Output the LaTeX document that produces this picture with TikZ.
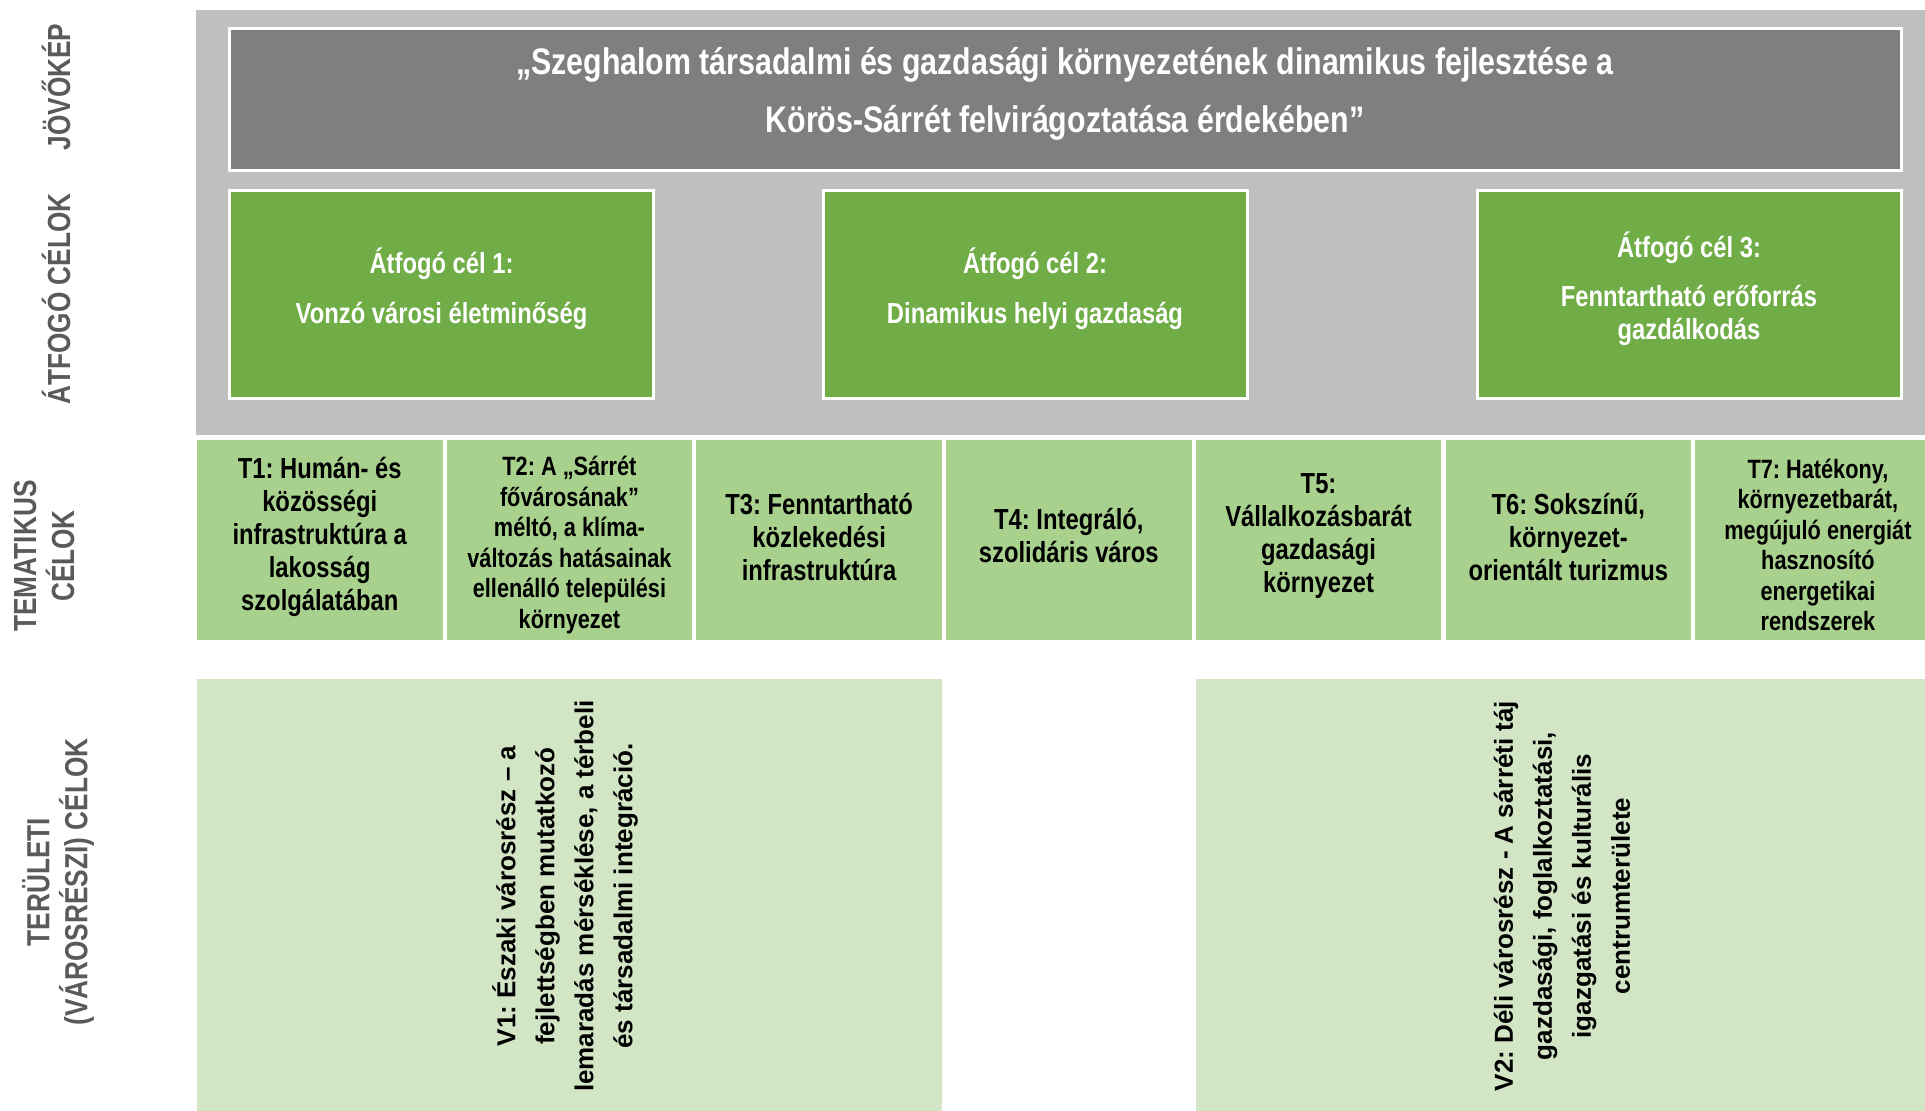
\documentclass[tikz,border=0pt]{standalone}
\usepackage{fontspec}
\setmainfont{Liberation Sans}[FakeStretch=0.82]
\newfontfamily\widefont{Liberation Sans}
\definecolor{bggrey}{HTML}{BFBFBF}
\definecolor{darkgrey}{HTML}{7F7F7F}
\definecolor{midgreen}{HTML}{70AD47}
\definecolor{lightgreen}{HTML}{A9D18E}
\definecolor{palegreen}{HTML}{D2E5C5}
\definecolor{lblgrey}{HTML}{5A5A5A}
\frenchspacing
\begin{document}
\frenchspacing
\begin{tikzpicture}[x=1pt,y=-1pt,
  box/.style={inner sep=0pt, outer sep=0pt},
  wbox/.style={box, draw=white, line width=3pt},
  greenbox/.style={wbox, fill=midgreen, minimum width=424pt, minimum height=208pt},
  tbox/.style={box, fill=lightgreen, minimum width=245.5pt, minimum height=200pt},
  vbox/.style={box, fill=palegreen, minimum height=450pt},
  hdrtxt/.style={text=white, font=\bfseries\fontsize{37}{58}\selectfont, align=center, inner sep=0pt},
  atxt/.style={text=white, font=\bfseries\fontsize{29}{33}\selectfont, align=center, inner sep=0pt},
  ttxt/.style={text=black, font=\bfseries\fontsize{29}{33}\selectfont, align=center, inner sep=0pt},
  ttxtsmall/.style={text=black, font=\bfseries\fontsize{26.5}{30.5}\selectfont, align=center, inner sep=0pt},
  vtxt/.style={text=black, font=\widefont\bfseries\fontsize{26}{39}\selectfont, align=center, inner sep=0pt, rotate=90},
  lbl/.style={text=lblgrey, font=\bfseries\fontsize{32}{38}\selectfont, align=center, inner sep=0pt, rotate=90}
]
\useasboundingbox (0,0) rectangle (1925,1111);
\clip (0,0) rectangle (1925,1111);

% grey background of upper part
\fill[bggrey] (196,10) rectangle (1940,435);

% vision
\node[wbox, fill=darkgrey, minimum width=1672pt, minimum height=142pt] (vision) at (1065.5,99.5) {};
\node[hdrtxt] (visiontext) at (1065,94) {„Szeghalom társadalmi és gazdasági környezetének dinamikus fejlesztése a\\Körös-Sárrét felvirágoztatása érdekében”};

% overarching goals
\node[greenbox] (a1) at (441.5,294.5) {};
\node[greenbox] (a2) at (1035,294.5) {};
\node[greenbox] (a3) at (1689,294.5) {};
\node[atxt] (a1text) at (441.5,289) {Átfogó cél 1:\\[17pt]Vonzó városi életminőség};
\node[atxt] (a2text) at (1035,289) {Átfogó cél 2:\\[17pt]Dinamikus helyi gazdaság};
\node[atxt] (a3text) at (1689,289) {Átfogó cél 3:\\[16pt]Fenntartható erőforrás\\gazdálkodás};

% thematic goals
\node[tbox] (t1) at (319.75,540) {};
\node[tbox] (t2) at (569.45,540) {};
\node[tbox] (t3) at (819.15,540) {};
\node[tbox] (t4) at (1068.85,540) {};
\node[tbox] (t5) at (1318.55,540) {};
\node[tbox] (t6) at (1568.25,540) {};
\node[tbox] (t7) at (1817.95,540) {};
\node[ttxt] (t1text) at (319.75,536.5) {T1: Humán- és\\közösségi\\infrastruktúra a\\lakosság\\szolgálatában};
\node[ttxtsmall] (t2text) at (569.45,545) {T2: A „Sárrét\\fővárosának”\\méltó, a klíma-\\változás hatásainak\\ellenálló települési\\környezet};
\node[ttxt] (t3text) at (819.15,536.5) {T3: Fenntartható\\közlekedési\\infrastruktúra};
\node[ttxt] (t4text) at (1068.85,535.5) {T4: Integráló,\\szolidáris város};
\node[ttxt] (t5text) at (1318.55,536) {T5:\\Vállalkozásbarát\\gazdasági\\környezet};
\node[ttxt] (t6text) at (1568.25,536.5) {T6: Sokszínű,\\környezet-\\orientált turizmus};
\node[ttxtsmall] (t7text) at (1817.95,545) {T7: Hatékony,\\környezetbarát,\\megújuló energiát\\hasznosító\\energetikai\\rendszerek};

% territorial goals
\node[vbox, minimum width=745pt] (v1) at (569.5,904) {};
\node[vbox, minimum width=745pt] (v2) at (1568.2,904) {};
\node[vtxt] (v1text) at (565,896) {V1: Északi városrész – a\\fejlettségben mutatkozó\\lemaradás mérséklése, a térbeli\\és társadalmi integráció.};
\node[vtxt] (v2text) at (1562,896) {V2: Déli városrész - A sárréti táj\\gazdasági, foglalkoztatási,\\igazgatási és kulturális\\centrumterülete};

% row labels
\node[lbl] (l1) at (56,87) {JÖVŐKÉP};
\node[lbl] (l2) at (56,299) {ÁTFOGÓ CÉLOK};
\node[lbl] (l3) at (44,556) {TEMATIKUS\\CÉLOK};
\node[lbl] (l4) at (58,882) {TERÜLETI\\(VÁROSRÉSZI) CÉLOK};
\end{tikzpicture}
\end{document}
